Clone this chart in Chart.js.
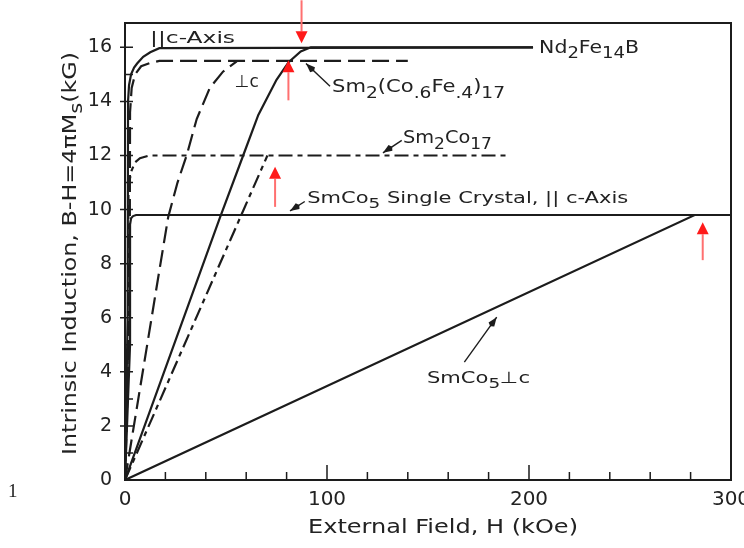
<!DOCTYPE html>
<html>
<head>
<meta charset="utf-8">
<script src="https://cdn.jsdelivr.net/npm/chart.js@4.4.1/dist/chart.umd.min.js"></script>
<style>
  html, body { margin: 0; padding: 0; background: #fff; }
  #wrap { width: 744px; height: 548px; }
</style>
</head>
<body>
<div id="wrap"><canvas id="chart" width="744" height="548"></canvas></div>
<script>
// ============================================================
// DATA  (H in kOe, B-H in kG)
// ============================================================

const xTicks = [0, 100, 200, 300];
const yTicks = [0, 2, 4, 6, 8, 10, 12, 14, 16];

// Nd2Fe14B, || c (solid) and ⊥ c (solid)
const ndParH  = [0, 1.3, 1.5, 2, 3, 4.5, 6, 9, 12.5, 17, 202];
const ndParB  = [0, 6, 14, 14.6, 15.0, 15.25, 15.4, 15.65, 15.82, 15.97, 16];
const ndPerpH = [0, 47, 58.5, 66, 75, 81, 87, 92, 202];
const ndPerpB = [0, 9.7, 12, 13.5, 14.8, 15.45, 15.85, 16, 16];

// Sm2(Co.6Fe.4)17, || c and ⊥ c (long dashes)
const scfParH  = [0, 2.3, 2.5, 3.3, 5, 8, 12.4, 17, 140];
const scfParB  = [0, 6, 13.6, 14.5, 15.0, 15.3, 15.42, 15.5, 15.5];
const scfPerpH = [0, 17.3, 21.4, 26, 30.5, 35.5, 42, 48.5, 55.3];
const scfPerpB = [0, 7.88, 9.73, 11.0, 12.0, 13.35, 14.5, 15.1, 15.48];

// Sm2Co17, || c and ⊥ c (dash-dot)
const s217ParH  = [0, 1.5, 1.7, 2.3, 3.3, 5, 7.4, 12, 190];
const s217ParB  = [0, 5, 10.5, 11.1, 11.45, 11.75, 11.9, 12, 12];
const s217PerpH = [0, 70.5];
const s217PerpB = [0, 12];

// SmCo5 single crystal, || c and ⊥ c (solid)
const s15ParH  = [0, 2.5, 2.5, 3, 4, 5.5, 300];
const s15ParB  = [0, 5, 9.45, 9.68, 9.76, 9.8, 9.8];
const s15PerpH = [0, 282, 300];
const s15PerpB = [0, 9.8, 9.8];

// red marker arrows: field, tip and tail (kG)
const redArrowH    = [87.4, 80.9, 74.3, 286];
const redArrowTip  = [16.15, 15.52, 11.58, 9.53];
const redArrowTail = [17.74, 14.04, 10.1, 8.13];

// ============================================================
// HELPERS
// ============================================================

const INK = '#1c1c1c';
const FONT = '"DejaVu Sans", sans-serif';

function pts(h, b) {
  return h.map((x, i) => ({ x, y: b[i] }));
}

function series(h, b, dash) {
  return {
    data: pts(h, b),
    borderColor: INK,
    borderWidth: 2.2,
    borderDash: dash || [],
    pointRadius: 0,
    tension: 0,
    fill: false
  };
}

function partFont(size, sub) {
  return `${sub ? Math.round(size * 0.88) : size}px ${FONT}`;
}

function richWidth(ctx, parts, size) {
  let w = 0;
  parts.forEach(([t, sub]) => {
    ctx.font = partFont(size, sub);
    w += ctx.measureText(t).width;
  });
  return w;
}

// parts: [[text, isSub], ...]; stretched horizontally to targetW
function drawRich(ctx, parts, x, y, size, targetW) {
  const nat = richWidth(ctx, parts, size);
  const k = targetW ? targetW / nat : 1;
  ctx.save();
  ctx.translate(x, y);
  ctx.scale(k, 1);
  let cx = 0;
  parts.forEach(([t, sub]) => {
    ctx.font = partFont(size, sub);
    ctx.fillText(t, cx, sub ? size * 0.32 : 0);
    cx += ctx.measureText(t).width;
  });
  ctx.restore();
}

function leader(ctx, x1, y1, x2, y2) {
  ctx.save();
  ctx.strokeStyle = INK;
  ctx.fillStyle = INK;
  ctx.lineWidth = 1.4;
  ctx.beginPath();
  ctx.moveTo(x1, y1);
  ctx.lineTo(x2, y2);
  ctx.stroke();
  const a = Math.atan2(y2 - y1, x2 - x1);
  ctx.translate(x2, y2);
  ctx.rotate(a);
  ctx.beginPath();
  ctx.moveTo(0, 0);
  ctx.lineTo(-9, -3.5);
  ctx.lineTo(-11, 0);
  ctx.lineTo(-9, 3.5);
  ctx.closePath();
  ctx.fill();
  ctx.restore();
}

// ============================================================
// PLUGIN — frame, inward ticks, labels, arrows, titles
// ============================================================

const decorPlugin = {
  id: 'decor',
  afterDatasetsDraw(chart) {
    const { ctx, chartArea: a, scales: { x, y } } = chart;
    const px = v => x.getPixelForValue(v);
    const py = v => y.getPixelForValue(v);

    ctx.save();

    // frame
    ctx.strokeStyle = INK;
    ctx.lineWidth = 2;
    ctx.strokeRect(a.left, a.top, a.right - a.left, a.bottom - a.top);

    // inward ticks
    ctx.lineWidth = 1.5;
    ctx.beginPath();
    for (let v = 20; v < 300; v += 20) {
      const len = v % 100 === 0 ? 15 : 8;
      ctx.moveTo(px(v), a.bottom);
      ctx.lineTo(px(v), a.bottom - len);
    }
    for (let v = 1; v <= 16; v++) {
      ctx.moveTo(a.left - (v % 2 === 0 ? 5 : 0), py(v));
      ctx.lineTo(a.left + 8, py(v));
    }
    ctx.stroke();

    // curve labels
    ctx.fillStyle = '#222';
    ctx.textBaseline = 'alphabetic';
    ctx.textAlign = 'left';
    drawRich(ctx, [['||c-Axis', 0]], px(12.4), py(16.15), 16, 85);
    drawRich(ctx, [['⊥c', 0]], px(54.3), py(14.52), 17, 24);
    drawRich(ctx, [['Nd', 0], ['2', 1], ['Fe', 0], ['14', 1], ['B', 0]], px(205), py(15.8), 17, 100);
    drawRich(ctx, [['Sm', 0], ['2', 1], ['(Co', 0], ['.6', 1], ['Fe', 0], ['.4', 1], [')', 0], ['17', 1]],
      px(102.5), py(14.34), 17, 173);
    drawRich(ctx, [['Sm', 0], ['2', 1], ['Co', 0], ['17', 1]], px(137.6), py(12.45), 17, 89);
    drawRich(ctx, [['SmCo', 0], ['5', 1], [' Single Crystal, || c-Axis', 0]], px(90.2), py(10.24), 16, 321);
    drawRich(ctx, [['SmCo', 0], ['5', 1], ['⊥c', 0]], px(149.5), py(3.58), 16, 103);

    // leader arrows
    leader(ctx, px(101.5), py(14.56), px(89.6), py(15.4));
    leader(ctx, px(137), py(12.56), px(127.7), py(12.1));
    leader(ctx, px(89), py(10.3), px(81.7), py(9.95));
    leader(ctx, px(168), py(4.36), px(184), py(6.02));

    // red markers
    redArrowH.forEach((h, i) => {
      const xx = px(h), tip = py(redArrowTip[i]), tail = py(redArrowTail[i]);
      const dir = tail < tip ? 1 : -1;       // 1 = pointing down
      const base = tip - dir * 12;
      ctx.strokeStyle = '#ff7070';
      ctx.lineWidth = 2;
      ctx.beginPath();
      ctx.moveTo(xx, tail);
      ctx.lineTo(xx, base);
      ctx.stroke();
      ctx.fillStyle = '#ff1a1a';
      ctx.beginPath();
      ctx.moveTo(xx, tip);
      ctx.lineTo(xx - 6, base);
      ctx.lineTo(xx + 6, base);
      ctx.closePath();
      ctx.fill();
    });

    // axis titles
    ctx.fillStyle = '#222';
    drawRich(ctx, [['External Field, H (kOe)', 0]], 308, 533, 19, 270);

    ctx.save();
    ctx.translate(76, 455);
    ctx.rotate(-Math.PI / 2);
    drawRich(ctx, [['Intrinsic Induction, B-H=4\u03c0M', 0], ['s', 1], ['(kG)', 0]], 0, 0, 19, 403);
    ctx.restore();

    // stray page mark
    ctx.font = '19px "Liberation Serif", serif';
    ctx.fillText('1', 8, 497);

    ctx.restore();
  }
};

// ============================================================
// CHART
// ============================================================

new Chart(document.getElementById('chart').getContext('2d'), {
  type: 'line',
  data: {
    datasets: [
      series(ndParH, ndParB),
      series(ndPerpH, ndPerpB),
      series(scfParH, scfParB, [17, 7]),
      series(scfPerpH, scfPerpB, [17, 7]),
      series(s217ParH, s217ParB, [14, 5, 5, 5]),
      series(s217PerpH, s217PerpB, [14, 5, 5, 5]),
      series(s15ParH, s15ParB),
      series(s15PerpH, s15PerpB)
    ]
  },
  options: {
    responsive: false,
    devicePixelRatio: 1,
    animation: false,
    layout: { padding: { left: 0, right: 13, top: 23, bottom: 0 } },
    plugins: {
      legend: { display: false },
      tooltip: { enabled: false }
    },
    scales: {
      x: {
        type: 'linear',
        min: 0,
        max: 300,
        afterBuildTicks: s => { s.ticks = xTicks.map(v => ({ value: v })); },
        afterFit: s => { s.height = 68; s.paddingLeft = 0; s.paddingRight = 0; },
        grid: { display: false, drawTicks: false },
        border: { display: false },
        ticks: { color: '#222', padding: 8, maxRotation: 0, font: { family: 'DejaVu Sans', size: 20 } }
      },
      y: {
        type: 'linear',
        min: 0,
        max: 16.9,
        afterBuildTicks: s => { s.ticks = yTicks.map(v => ({ value: v })); },
        afterFit: s => { s.width = 125; s.paddingTop = 0; s.paddingBottom = 0; },
        grid: { display: false, drawTicks: false },
        border: { display: false },
        ticks: { color: '#222', padding: 13, font: { family: 'DejaVu Sans', size: 19 } }
      }
    }
  },
  plugins: [decorPlugin]
});
</script>
</body>
</html>
